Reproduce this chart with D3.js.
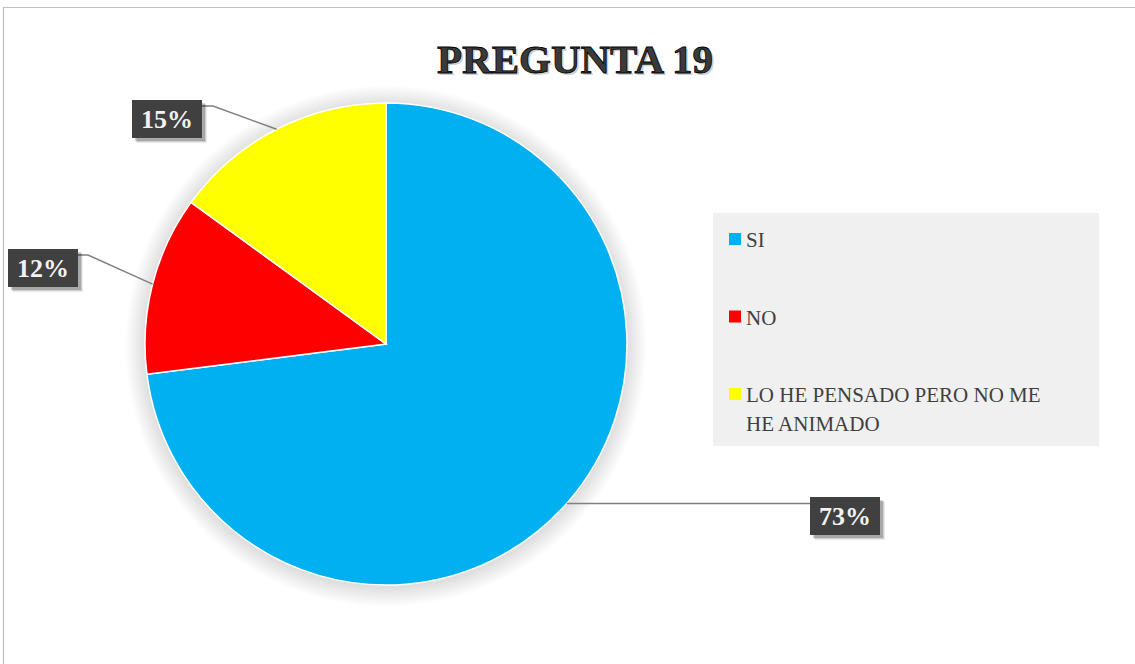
<!DOCTYPE html>
<html>
<head>
<meta charset="utf-8">
<script src="https://cdn.jsdelivr.net/npm/d3@7"></script>
<style>
  body { margin: 0; background: #fff; font-family: "Liberation Serif", "Times New Roman", Times, serif; }
  svg { display: block; }
</style>
</head>
<body>
<div id="chart"></div>
<script>
const categories = ["SI", "NO", "LO HE PENSADO PERO NO ME HE ANIMADO"]
const values = [73, 12, 15]
const colors = ["#00b0f0", "#ff0000", "#ffff00"]
const title = "PREGUNTA 19"

const width = 1135, height = 664
const cx = 386, cy = 344, radius = 241

// where each data label box sits (top-left corner), by category index
const labelBoxes = [
  { x: 810, y: 497, elbow: null },
  { x: 8, y: 249, elbow: 88 },
  { x: 132, y: 100, elbow: 213 }
]

const svg = d3.select("#chart").append("svg")
  .attr("width", width)
  .attr("height", height)
  .attr("font-family", "Liberation Serif")

// soft halo behind the pie, done with a radial gradient
const defs = svg.append("defs")
const halo = defs.append("radialGradient").attr("id", "halo")
  .attr("gradientUnits", "userSpaceOnUse")
  .attr("cx", 0).attr("cy", 2).attr("r", radius + 20)
halo.append("stop").attr("offset", radius / (radius + 20)).attr("stop-color", "#000").attr("stop-opacity", 0.13)
halo.append("stop").attr("offset", 1).attr("stop-color", "#000").attr("stop-opacity", 0)

// chart frame (top and left edges visible)
svg.append("path")
  .attr("d", `M3.5,${height} V7.5 H${width}`)
  .attr("fill", "none")
  .attr("stroke", "#bfbfbf")
  .attr("stroke-width", 1.2)

// title (with a soft offset copy as shadow)
const titleG = svg.append("g")
titleG.append("text")
  .attr("x", 577).attr("y", 75)
  .attr("text-anchor", "middle")
  .attr("font-weight", "bold")
  .attr("font-size", 41)
  .attr("fill", "#000").attr("opacity", 0.18)
  .text(title)
titleG.append("text")
  .attr("x", 575).attr("y", 73)
  .attr("text-anchor", "middle")
  .attr("font-weight", "bold")
  .attr("font-size", 41)
  .attr("fill", "#3a3a3a")
  .attr("stroke", "#000")
  .attr("stroke-width", 0.8)
  .text(title)

// pie
const data = categories.map((c, i) => ({ cat: c, value: values[i], i }))
const pie = d3.pie().sort(null).value(d => d.value)
const arcs = pie(data)
const arc = d3.arc().innerRadius(0).outerRadius(radius)

const g = svg.append("g")
  .attr("transform", "translate(" + cx + "," + cy + ")")

g.append("circle")
  .attr("cy", 2)
  .attr("r", radius + 20)
  .attr("fill", "url(#halo)")

g.selectAll("path.slice")
  .data(arcs)
  .join("path")
  .attr("class", "slice")
  .attr("d", arc)
  .attr("fill", d => colors[d.data.i])
  .attr("stroke", "#fff")
  .attr("stroke-width", 1.5)

// leader lines + labels
const total = d3.sum(values)
arcs.forEach(a => {
  const mid = (a.startAngle + a.endAngle) / 2
  const ax = cx + Math.sin(mid) * radius
  const ay = cy - Math.cos(mid) * radius
  const box = labelBoxes[a.data.i]
  const bw = 70, bh = 38
  let pts
  if (box.elbow === null) {
    pts = [[ax, ay], [box.x, ay]]
  } else {
    pts = [[ax, ay], [box.elbow, box.y + 6], [box.x + bw, box.y + 6]]
  }
  svg.append("path")
    .attr("d", d3.line()(pts))
    .attr("fill", "none")
    .attr("stroke", "#808080")
    .attr("stroke-width", 1.5)

  // shadow layers
  ;[[5, 0.08], [4, 0.12], [3, 0.18]].forEach(([o, op]) => {
    svg.append("rect")
      .attr("x", box.x + o).attr("y", box.y + o)
      .attr("width", bw).attr("height", bh)
      .attr("fill", "#000").attr("opacity", op)
  })

  svg.append("rect")
    .attr("x", box.x).attr("y", box.y)
    .attr("width", bw).attr("height", bh)
    .attr("fill", "#404040")

  svg.append("text")
    .attr("x", box.x + bw / 2)
    .attr("y", box.y + 28)
    .attr("text-anchor", "middle")
    .attr("font-weight", "bold")
    .attr("font-size", 26)
    .attr("fill", "#f2f2f2")
    .text(Math.round(a.data.value / total * 100) + "%")
})

// legend
const legend = svg.append("g")
legend.append("rect")
  .attr("x", 713).attr("y", 213)
  .attr("width", 386).attr("height", 233)
  .attr("fill", "#f0f0f0")

const legendLines = [["SI"], ["NO"], ["LO HE PENSADO PERO NO ME", "HE ANIMADO"]]
const legendY = d3.scalePoint().domain(categories).range([247, 402])

categories.forEach((c, i) => {
  const y = legendY(c)
  legend.append("rect")
    .attr("x", 729).attr("y", y - 14)
    .attr("width", 12).attr("height", 12)
    .attr("fill", colors[i])
  const t = legend.append("text")
    .attr("x", 746).attr("y", y)
    .attr("font-size", 21)
    .attr("fill", "#404040")
  legendLines[i].forEach((line, k) => {
    t.append("tspan").attr("x", 746).attr("dy", k === 0 ? 0 : 29).text(line)
  })
})
</script>
</body>
</html>
